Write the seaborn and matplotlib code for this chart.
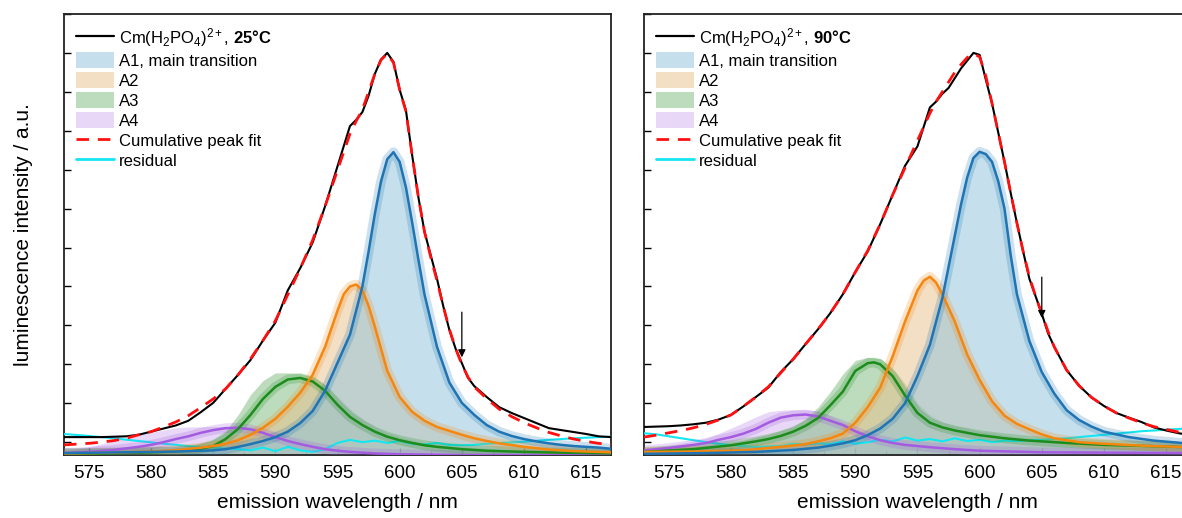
import matplotlib
matplotlib.use("Agg")
import matplotlib.pyplot as plt
import seaborn as sns
from matplotlib.lines import Line2D
from matplotlib.patches import Patch
from matplotlib.ticker import MultipleLocator

# ---------------- data (normalised intensity) ----------------
X_SPEC = [573, 574, 575, 576, 577, 578, 579, 580, 581, 582, 583, 584, 585, 586, 587, 588, 589, 590,
          591, 592, 593, 594, 595, 596, 596.5, 597, 597.5, 598, 598.5, 599, 599.5, 600, 600.5, 601,
          601.5, 602, 602.5, 603, 603.5, 604, 604.5, 605, 605.5, 606, 607, 608, 609, 610, 611, 612,
          613, 614, 615, 616, 617]

# ---- 25 °C ----
L_SPEC = [0.013, 0.013, 0.013, 0.013, 0.014, 0.015, 0.019, 0.027, 0.035, 0.043, 0.055, 0.077, 0.101,
          0.137, 0.173, 0.211, 0.261, 0.307, 0.39, 0.447, 0.513, 0.606, 0.709, 0.812,
          0.828, 0.848, 0.89, 0.946, 0.983, 1.0, 0.977, 0.905, 0.853, 0.738, 0.63, 0.54, 0.48, 0.42,
          0.35, 0.288, 0.24, 0.203, 0.165, 0.144,
          0.116, 0.09, 0.075, 0.062, 0.049, 0.036, 0.031, 0.026, 0.021, 0.015, 0.013]
L_FIT = [-0.007, -0.005, -0.003, 0.0, 0.004, 0.010, 0.019, 0.027, 0.039, 0.052, 0.068, 0.089, 0.111,
         0.137, 0.173, 0.214, 0.261, 0.312, 0.379, 0.446, 0.519, 0.606, 0.699, 0.792,
         0.825, 0.854, 0.9, 0.946, 0.982, 0.998, 0.975, 0.905, 0.85, 0.738, 0.63, 0.54, 0.475, 0.415,
         0.35, 0.29, 0.24, 0.2, 0.167, 0.142,
         0.112, 0.085, 0.066, 0.05, 0.037, 0.025, 0.016, 0.008, 0.002, -0.003, -0.006]

L_A1_X = [573, 578, 582, 585, 586, 587, 588, 589, 590, 591, 592, 593, 594, 595, 596, 597, 597.5, 598,
          598.5, 599, 599.5, 600, 600.5, 601, 601.5, 602, 603, 604, 605, 606, 607, 608, 609, 610, 611,
          612, 613, 614, 615, 616, 617]
L_A1_Y = [-0.028, -0.026, -0.024, -0.021, -0.018, -0.012, -0.005, 0.003, 0.013, 0.027, 0.049, 0.08,
          0.132, 0.204, 0.276, 0.40, 0.49, 0.586, 0.67, 0.727, 0.745, 0.72, 0.655, 0.565, 0.47, 0.379,
          0.245, 0.153, 0.101, 0.07, 0.044, 0.027, 0.016, 0.008, 0.002, -0.003, -0.007, -0.01, -0.012,
          -0.014, -0.017]

L_A2_X = [573, 575, 578, 580, 582, 584, 585, 586, 587, 588, 589, 590, 591, 592, 593, 594, 595, 595.5,
          596, 596.5, 597, 597.5, 598, 599, 600, 601, 602, 603, 604, 605, 606, 607, 608, 610, 612, 614, 617]
L_A2_Y = [-0.029, -0.028, -0.026, -0.024, -0.021, -0.014, -0.01, -0.004, 0.005, 0.019, 0.037, 0.06,
          0.091, 0.127, 0.173, 0.245, 0.338, 0.38, 0.40, 0.405, 0.39, 0.35, 0.297, 0.183, 0.116, 0.078,
          0.055, 0.039, 0.029, 0.019, 0.01, 0.003, -0.003, -0.012, -0.019, -0.023, -0.026]

L_A3_X = [573, 576, 579, 581, 583, 584, 585, 586, 587, 588, 589, 590, 591, 592, 593, 594, 595, 596,
          597, 598, 599, 600, 601, 602, 603, 605, 607, 610, 613, 617]
L_A3_Y = [-0.03, -0.029, -0.027, -0.025, -0.021, -0.017, -0.01, 0.008, 0.034, 0.07, 0.111, 0.142,
          0.161, 0.165, 0.156, 0.132, 0.096, 0.065, 0.044, 0.027, 0.014, 0.005, -0.002, -0.008, -0.012,
          -0.018, -0.022, -0.025, -0.027, -0.029]
L_A3_BAND_X = [573, 578, 581, 583, 585, 586, 587, 588, 589, 590, 591, 592, 593, 594, 595, 596, 597,
               598, 599, 600, 602, 605, 610, 617]
L_A3_BAND_Y = [-0.028, -0.023, -0.018, -0.012, 0.008, 0.029, 0.07, 0.122, 0.158, 0.178, 0.178, 0.176,
               0.168, 0.147, 0.117, 0.086, 0.06, 0.039, 0.024, 0.013, -0.002, -0.012, -0.021, -0.027]

L_A4_X = [573, 575, 577, 579, 580, 581, 582, 583, 584, 585, 586, 587, 588, 589, 590, 591, 592, 593,
          594, 595, 596, 597, 598, 600, 605, 617]
L_A4_Y = [-0.028, -0.025, -0.02, -0.012, -0.007, 0.0, 0.008, 0.015, 0.024, 0.031, 0.036, 0.037, 0.033,
          0.024, 0.013, 0.003, -0.005, -0.012, -0.018, -0.022, -0.025, -0.027, -0.029, -0.031, -0.033,
          -0.033]
L_A4_BAND_X = [573, 575, 577, 579, 581, 582, 583, 585, 587, 588, 589, 590, 591, 592, 593, 594, 595,
               596, 597, 598, 600, 605, 617]
L_A4_BAND_Y = [-0.023, -0.012, 0.003, 0.019, 0.031, 0.037, 0.039, 0.04, 0.04, 0.039, 0.035, 0.024,
               0.013, 0.003, -0.005, -0.012, -0.018, -0.022, -0.025, -0.028, -0.031, -0.033, -0.033]

L_RES_X = [573, 575, 577, 579, 581, 583, 585, 587, 588, 589, 590, 591, 592, 593, 594, 595, 596, 597,
           598, 599, 600, 601, 602, 603, 604, 605, 606, 607, 608, 610, 612, 614, 616, 617]
L_RES_Y = [0.021, 0.016, 0.01, 0.003, -0.004, -0.01, -0.014, -0.018, -0.021, -0.014, -0.023, -0.012,
           -0.021, -0.025, -0.018, -0.002, 0.006, 0.0, 0.004, -0.002, 0.003, -0.004, -0.006, -0.002,
           -0.007, -0.008, -0.007, -0.004, -0.002, 0.001, 0.006, 0.01, 0.013, 0.014]
L_ARROW = [605.0, 0.334, 0.218]

# ---- 90 °C ----
R_SPEC = [0.039, 0.04, 0.041, 0.043, 0.046, 0.05, 0.058, 0.07, 0.092, 0.116, 0.14, 0.18, 0.213, 0.252,
          0.29, 0.332, 0.38, 0.437, 0.49, 0.56, 0.635, 0.71, 0.76, 0.86,
          0.875, 0.895, 0.91, 0.935, 0.96, 0.98, 1.0, 0.995, 0.931, 0.87, 0.795, 0.72, 0.64, 0.563,
          0.49, 0.42, 0.375, 0.33, 0.28, 0.245,
          0.185, 0.145, 0.115, 0.093, 0.075, 0.063, 0.052, 0.038, 0.03, 0.023, 0.018]
R_FIT = [0.013, 0.018, 0.024, 0.03, 0.037, 0.046, 0.057, 0.07, 0.092, 0.116, 0.142, 0.178, 0.213,
         0.252, 0.29, 0.332, 0.38, 0.437, 0.492, 0.56, 0.635, 0.705, 0.775, 0.845,
         0.875, 0.9, 0.925, 0.95, 0.97, 0.988, 0.998, 0.99, 0.94, 0.87, 0.795, 0.72, 0.64, 0.563,
         0.49, 0.425, 0.375, 0.33, 0.285, 0.245,
         0.185, 0.145, 0.115, 0.093, 0.075, 0.062, 0.05, 0.04, 0.033, 0.026, 0.02]

R_A1_X = [573, 578, 582, 585, 587, 588, 589, 590, 591, 592, 593, 594, 595, 596, 597, 598, 598.5, 599,
          599.5, 600, 600.5, 601, 601.5, 602, 602.5, 603, 604, 605, 606, 607, 608, 609, 610, 612, 614, 617]
R_A1_Y = [-0.03, -0.028, -0.025, -0.02, -0.014, -0.009, -0.003, 0.005, 0.018, 0.035, 0.06, 0.1, 0.17,
          0.25, 0.37, 0.53, 0.61, 0.68, 0.73, 0.746, 0.74, 0.72, 0.67, 0.6, 0.48, 0.38, 0.26, 0.18,
          0.125, 0.082, 0.057, 0.04, 0.027, 0.013, 0.004, -0.004]

R_A2_X = [573, 577, 581, 584, 586, 587, 588, 589, 590, 591, 592, 593, 594, 595, 595.5, 596, 596.5,
          597, 598, 599, 600, 601, 602, 603, 604, 605, 606, 608, 610, 613, 617]
R_A2_Y = [-0.025, -0.024, -0.021, -0.012, -0.005, 0.002, 0.01, 0.022, 0.05, 0.09, 0.14, 0.22, 0.31,
          0.39, 0.415, 0.425, 0.41, 0.38, 0.31, 0.225, 0.16, 0.105, 0.068, 0.047, 0.033, 0.02, 0.01,
          0.0, -0.004, -0.009, -0.013]

R_A3_X = [573, 577, 580, 581, 582, 583, 584, 585, 586, 587, 588, 589, 590, 591, 591.5, 592, 593, 594,
          595, 596, 597, 598, 599, 600, 602, 604, 607, 610, 617]
R_A3_Y = [-0.025, -0.018, -0.008, -0.003, 0.002, 0.008, 0.016, 0.027, 0.042, 0.062, 0.095, 0.13,
          0.183, 0.203, 0.205, 0.2, 0.17, 0.12, 0.075, 0.05, 0.038, 0.03, 0.024, 0.018, 0.01, 0.004,
          -0.002, -0.007, -0.013]
R_A3_BAND_X = [573, 578, 581, 583, 585, 586, 587, 588, 589, 590, 591, 592, 593, 594, 595, 596, 597,
               598, 600, 603, 607, 612, 617]
R_A3_BAND_Y = [-0.02, -0.008, 0.005, 0.02, 0.04, 0.06, 0.09, 0.13, 0.175, 0.21, 0.218, 0.215, 0.19,
               0.15, 0.1, 0.07, 0.052, 0.042, 0.028, 0.013, 0.003, -0.005, -0.01]

R_A4_X = [573, 575, 577, 578, 579, 580, 581, 582, 583, 584, 585, 586, 587, 588, 589, 590, 591, 592,
          593, 594, 596, 598, 600, 605, 617]
R_A4_Y = [-0.021, -0.015, -0.007, -0.002, 0.006, 0.013, 0.022, 0.034, 0.05, 0.063, 0.069, 0.071,
          0.066, 0.055, 0.044, 0.028, 0.015, 0.005, -0.002, -0.007, -0.013, -0.018, -0.022, -0.026,
          -0.028]
R_A4_BAND_X = R_A4_X
R_A4_BAND_Y = [-0.016, -0.008, 0.003, 0.01, 0.022, 0.036, 0.05, 0.065, 0.078, 0.082, 0.083, 0.083,
               0.08, 0.068, 0.052, 0.036, 0.022, 0.01, 0.002, -0.004, -0.011, -0.016, -0.02, -0.025,
               -0.028]

R_RES_X = [573, 574, 575, 576, 577, 578, 579, 580, 582, 584, 585, 586, 587, 588, 589, 590, 591, 592,
           593, 594, 595, 596, 597, 598, 599, 600, 601, 602, 603, 605, 607, 609, 611, 613, 615, 617]
R_RES_Y = [0.023, 0.02, 0.015, 0.01, 0.005, 0.0, -0.004, -0.008, -0.012, -0.01, -0.004, -0.006,
           -0.003, -0.005, 0.002, -0.004, 0.0, 0.006, 0.002, 0.012, 0.004, 0.008, 0.002, 0.01, 0.003,
           0.006, 0.0, 0.004, 0.003, 0.006, 0.01, 0.016, 0.022, 0.028, 0.032, 0.036]
R_ARROW = [605.0, 0.424, 0.319]

LABELS = ["Cm(H$_2$PO$_4$)$^{2+}$, $\\mathbf{25°C}$",
          "Cm(H$_2$PO$_4$)$^{2+}$, $\\mathbf{90°C}$"]
COMP_NAMES = ["A1, main transition", "A2", "A3", "A4", "Cumulative peak fit", "residual"]
X_TICKS = [575, 580, 585, 590, 595, 600, 605, 610, 615]

# ---------------- styling ----------------
sns.set_theme(style="white")
plt.rcParams["font.family"] = ["Liberation Sans", "DejaVu Sans"]
plt.rcParams["mathtext.fontset"] = "custom"
plt.rcParams["mathtext.rm"] = "Liberation Sans"
plt.rcParams["mathtext.it"] = "Liberation Sans:italic"
plt.rcParams["mathtext.bf"] = "Liberation Sans:bold"
for k in ("text.color", "axes.labelcolor", "xtick.color", "ytick.color"):
    plt.rcParams[k] = "black"

YMIN, YMAX = -0.033, 1.1
C_BLUE, F_BLUE = "#1f74b4", "#8cc3db"
C_ORANGE, F_ORANGE = "#f5870f", "#e9c08a"
C_GREEN, F_GREEN = "#1c8c1c", "#7dbb7d"
C_PURPLE, F_PURPLE = "#a35ce0", "#d2b0ee"
C_CYAN = "#14e6f0"
FILL_ALPHA = 0.5

fig = plt.figure(figsize=(11.82, 5.18), dpi=100)
axL = fig.add_axes([0.05415, 0.1216, 0.4628, 0.8514])
axR = fig.add_axes([0.5448, 0.1216, 0.4628, 0.8514])


def line(ax, x, y, color, lw, z, **kw):
    sns.lineplot(x=x, y=y, ax=ax, color=color, linewidth=lw, sort=False,
                 estimator=None, legend=False, zorder=z, **kw)
    return ax.lines[-1]


def panel(ax, spec, fit, a1, a2, a3, a3b, a4, a4b, res, arrow, label):
    # filled component areas
    ax.fill_between(a4b[0], a4b[1], YMIN, color=F_PURPLE, alpha=FILL_ALPHA, lw=0, zorder=1)
    ax.fill_between(a3b[0], a3b[1], YMIN, color=F_GREEN, alpha=FILL_ALPHA, lw=0, zorder=1)
    ax.fill_between(a2[0], a2[1], YMIN, color=F_ORANGE, alpha=FILL_ALPHA, lw=0, zorder=1)
    ax.fill_between(a1[0], a1[1], YMIN, color=F_BLUE, alpha=FILL_ALPHA, lw=0, zorder=1)
    # residual
    line(ax, res[0], res[1], C_CYAN, 1.5, 3)
    # uncertainty glow + component lines
    for (xx, yy), c in ((a4, C_PURPLE), (a3, C_GREEN), (a2, C_ORANGE), (a1, C_BLUE)):
        l = line(ax, xx, yy, c, 7, 4)
        l.set_alpha(0.22)
        line(ax, xx, yy, c, 1.8, 5)
    # spectrum and cumulative fit
    line(ax, X_SPEC, spec, "black", 1.5, 6)
    l = line(ax, X_SPEC, fit, "#ff1010", 2.0, 7)
    l.set_dashes((4.5, 3.2))
    # arrow
    ax.annotate("", xy=(arrow[0], arrow[2]), xytext=(arrow[0], arrow[1]),
                arrowprops=dict(arrowstyle="-|>", color="black", lw=0.9,
                                mutation_scale=11, shrinkA=0, shrinkB=0), zorder=8)

    ax.set_xlim(573, 617)
    ax.set_ylim(YMIN, YMAX)
    ax.set_xticks(X_TICKS)
    ax.xaxis.set_minor_locator(MultipleLocator(2.5))
    ax.yaxis.set_major_locator(MultipleLocator(0.1))
    ax.tick_params(axis="both", which="both", direction="in", bottom=True, left=True,
                   top=False, right=False, colors="black")
    ax.tick_params(axis="both", which="major", length=5, width=1.0)
    ax.tick_params(axis="both", which="minor", length=3, width=0.9)
    ax.tick_params(axis="x", labelsize=13.5, pad=7)
    ax.tick_params(axis="y", labelleft=False)
    for s in ax.spines.values():
        s.set_color("#222222")
        s.set_linewidth(1.3)
    ax.set_xlabel("emission wavelength / nm", fontsize=15, labelpad=8)

    handles = [Line2D([], [], color="black", lw=1.6),
               Patch(facecolor=F_BLUE, alpha=FILL_ALPHA, lw=0),
               Patch(facecolor=F_ORANGE, alpha=FILL_ALPHA, lw=0),
               Patch(facecolor=F_GREEN, alpha=FILL_ALPHA, lw=0),
               Patch(facecolor=F_PURPLE, alpha=FILL_ALPHA, lw=0),
               Line2D([], [], color="#ff1010", lw=2.0, dashes=(4.5, 3.2)),
               Line2D([], [], color=C_CYAN, lw=2.0)]
    ax.legend(handles, [label] + COMP_NAMES, loc="upper left", frameon=False, fontsize=12,
              handlelength=2.3, handleheight=1.1, labelspacing=0.2, handletextpad=0.3,
              borderaxespad=0.3, borderpad=0.4)


panel(axL, L_SPEC, L_FIT, (L_A1_X, L_A1_Y), (L_A2_X, L_A2_Y), (L_A3_X, L_A3_Y),
      (L_A3_BAND_X, L_A3_BAND_Y), (L_A4_X, L_A4_Y), (L_A4_BAND_X, L_A4_BAND_Y),
      (L_RES_X, L_RES_Y), L_ARROW, LABELS[0])
panel(axR, R_SPEC, R_FIT, (R_A1_X, R_A1_Y), (R_A2_X, R_A2_Y), (R_A3_X, R_A3_Y),
      (R_A3_BAND_X, R_A3_BAND_Y), (R_A4_X, R_A4_Y), (R_A4_BAND_X, R_A4_BAND_Y),
      (R_RES_X, R_RES_Y), R_ARROW, LABELS[1])
axL.set_ylabel("luminescence intensity / a.u.", fontsize=15, labelpad=22)

fig.savefig("out.png", dpi=100)
